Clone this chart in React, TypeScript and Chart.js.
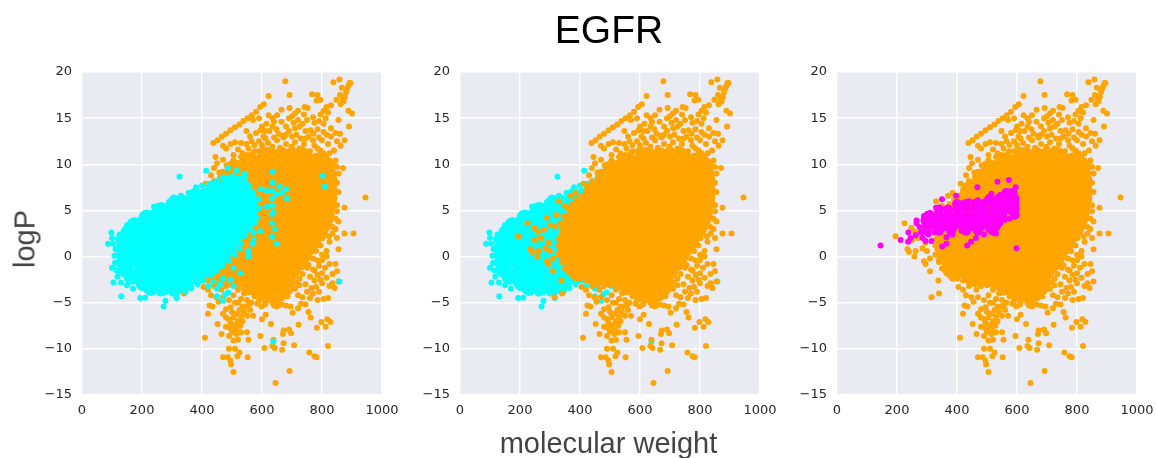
import React, { useEffect, useRef } from "react";
import { Chart, registerables } from "chart.js";

Chart.register(...registerables);

type Pair = [number, number];
type Row = [number, number[]];

const xTicksMax = 1000;
const yRange = [-15, 20];

// dense centre of the orange population, as [logP, [molecular weights]]
const orangeCoreRows: Row[] = [
  [11.0, [625, 665, 700, 735]],
  [10.4, [560, 600, 640, 680, 720, 755, 785]],
  [9.6, [505, 525, 565, 605, 645, 685, 725, 765, 795, 815]],
  [8.8, [495, 535, 575, 615, 655, 695, 735, 775, 805, 820]],
  [8.0, [475, 515, 555, 595, 635, 675, 715, 755, 795, 825]],
  [7.2, [440, 455, 495, 535, 575, 615, 655, 695, 735, 775, 810, 825]],
  [6.4, [430, 470, 510, 550, 590, 630, 670, 710, 750, 790, 825]],
  [5.6, [410, 450, 490, 530, 570, 610, 650, 690, 730, 770, 800, 820]],
  [4.8, [385, 425, 465, 505, 545, 585, 625, 665, 705, 745, 785, 815]],
  [4.0, [370, 410, 450, 490, 530, 570, 610, 650, 690, 730, 770, 810]],
  [3.2, [360, 400, 440, 480, 520, 560, 600, 640, 680, 720, 760, 800]],
  [2.4, [355, 395, 435, 475, 515, 555, 595, 635, 675, 715, 755, 785]],
  [1.6, [355, 395, 435, 475, 515, 555, 595, 635, 675, 715, 745, 770]],
  [0.8, [355, 395, 435, 475, 515, 555, 595, 635, 675, 720, 750]],
  [0.0, [360, 400, 440, 480, 520, 560, 600, 640, 680, 710, 735]],
  [-0.8, [375, 415, 455, 495, 535, 575, 615, 655, 695, 720]],
  [-1.6, [385, 425, 465, 505, 545, 585, 625, 665, 685, 700]],
  [-2.4, [450, 490, 530, 570, 610, 650, 665, 685]],
  [-3.2, [555, 595, 630, 655, 675]],
  [-4.0, [605, 640, 660]],
];

const orangeScatter: Pair[] = [
  [438, 12.3], [452, 12.6], [466, 13], [480, 13.3], [495, 13.7], [510, 14], [525, 14.3], [538, 14.7], [552, 15], [566, 15.3], [580, 15.7], [594, 16.2], [606, 16.5],
  [872, 16.8], [876, 17.3], [880, 17.8], [884, 18.2], [888, 18.5], [892, 18.8], [895, 18.8], [858, 19.2], [838, 18.9], [860, 17.5], [866, 18.3], [848, 17], [862, 16.5], [868, 17],
  [678, 19], [622, 17.4], [692, 17.5], [767, 17.6], [785, 17.5], [795, 17], [782, 16.9], [830, 16.4], [815, 16.2], [805, 15.8], [812, 15], [820, 15.6], [795, 15.4],
  [665, 15.9], [692, 16.1], [742, 16.2], [752, 16.1], [710, 15.5], [720, 15.8], [690, 15], [622, 15.3], [635, 15], [640, 14.6], [570, 14.8], [590, 15], [615, 14.4], [600, 14.1],
  [665, 14.6], [705, 14.5], [720, 14.8], [735, 14.4], [770, 15.1], [790, 14.7], [855, 14.8], [888, 15.8], [900, 15.5], [890, 14.1], [762, 13.7], [772, 13.3], [785, 13.8], [815, 13.2], [830, 13.9], [845, 13.4], [830, 13], [860, 13.3], [875, 12.6], [850, 12.5], [862, 12],
  [548, 13.6], [560, 13], [580, 13.4], [565, 12.5], [548, 12.2], [530, 12.3], [510, 12.4], [495, 12.2], [470, 12], [480, 11.7], [520, 11.6], [505, 11], [535, 11.2], [555, 11.7], [590, 12.5], [605, 13], [625, 13.6], [648, 13.8], [668, 13.1], [690, 13.6], [715, 13.2], [730, 12.8], [755, 13], [800, 12.6], [820, 12.2], [840, 11.5], [825, 11.2], [845, 10.4], [850, 9.7], [870, 9.6], [855, 9], [840, 8.5], [850, 8], [835, 7.5], [855, 7], [840, 6.4], [830, 6], [875, 5.3], [850, 4.9], [830, 4.5], [855, 3.8], [845, 3], [835, 2.5], [850, 2], [875, 2.5], [905, 2.5], [855, 0.8], [945, 6.4],
  [445, 10.8], [450, 10.1], [440, 9.6], [470, 10.5], [482, 9.9], [458, 9.1], [430, 8.8], [412, 7.9], [385, 6.9], [370, 6.6], [330, 6], [350, 5.5], [320, 4.5], [290, 4.2], [225, 3.6], [195, 2.2], [260, 2.7], [248, 3.1], [280, 2.9], [300, 3.4], [318, 3.2], [270, 2], [250, 1.8], [235, 0.8], [240, 0.5], [262, 0.6], [258, 0], [295, 1.5], [285, 0.9], [300, 0.6], [290, -0.5], [310, -0.2], [295, -0.8], [310, -1.6], [335, 0.8], [340, -0.4], [338, -2.6], [315, -4.4], [340, -4],
  [345, 2.5], [340, 3.4], [360, -1.5], [385, -2.4], [405, -3.3], [420, -3.6], [440, -3.2], [430, -4.2], [448, -4.4], [465, -3.6], [480, -3.2], [500, -2.9], [520, -3.6], [505, -4.2], [540, -4], [560, -3.4], [575, -4.3], [600, -4.5], [620, -4.7], [650, -4.6], [670, -4.1], [690, -3.8], [710, -3.5], [725, -3.1], [745, -3], [760, -2.2], [775, -1.5], [790, -1], [800, -0.4], [815, 0], [825, -0.8], [845, -0.8], [850, -1.6], [835, -1.9], [815, -2.3], [795, -2.5], [780, -3.3], [790, -3.8], [800, -2.9], [825, -3.2], [835, -2.9], [855, -2.7], [842, -3.4], [820, -4.5], [805, -4.6], [785, -4.7], [770, -4], [760, -4.5], [745, -5.2], [730, -5.1], [720, -5.6], [755, -6], [762, -6.6], [702, -6.1], [695, -5.4], [680, -5.3], [665, -5.2], [640, -5.3], [598, -5.4], [600, -6.8], [612, -6.3], [570, -6.4], [555, -5.3], [535, -5.4], [425, -5.3], [435, -5.4], [420, -6.2], [452, -7.3], [470, -6.2], [480, -5.7], [495, -5.5], [510, -5], [525, -5.8], [540, -6], [505, -6.6], [490, -6.8], [520, -7],
  [480, -7.6], [495, -7.8], [510, -7.4], [528, -7.5], [500, -8.2], [490, -8.6], [515, -8.4], [530, -8.2], [550, -8.2], [520, -9], [505, -9.1], [555, -9], [465, -8.4], [410, -8.8], [595, -8.6], [630, -7.3], [670, -8.4], [672, -8], [690, -7.9], [697, -8.3], [722, -7.4], [783, -7.7], [798, -7.1], [812, -7.6], [818, -6.8], [828, -7.1], [820, -9.7], [758, -10.4], [775, -10.8], [782, -10.9], [635, -9.7], [642, -9.9], [608, -9.9], [638, -9], [667, -10.1], [707, -9.6], [672, -9.4], [490, -10], [510, -10], [525, -10.4], [518, -10.8], [470, -10.9], [486, -10.9], [495, -11.3], [497, -11.7], [552, -10.9], [505, -12.5], [692, -12.4], [645, -13.7],
  [620, 12.3], [650, 12.6], [680, 12.2], [710, 12.4], [740, 12.2], [775, 12], [795, 11.5], [505, 8.5], [520, 10], [540, 10.6], [575, 11.4], [600, 11.6],
];

const orangeFringe: Pair[] = [
  [600, 12.1], [612, 12.8], [635, 11.9], [660, 11.8], [672, 12.9], [698, 11.9], [700, 13], [725, 11.7], [745, 12.8], [760, 11.4], [785, 11.7], [805, 11.2], [815, 10.8], [800, 10.9], [825, 10.4], [835, 10], [835, 9.4], [840, 9], [842, 8.2], [842, 7.2], [840, 6.6], [835, 5.4], [832, 4.6], [825, 3.8], [815, 3.2], [808, 2.6], [802, 2], [795, 1.2], [780, 0.6], [770, -0.2], [755, -0.9], [750, -1.2], [735, -1.9], [725, -2.4], [715, -2.8], [700, -3.1], [695, -3.6], [685, -4.3], [650, -4.9], [635, -5], [612, -4.9], [590, -4.8], [570, -3.9], [555, -3.9], [540, -3.4], [520, -3.1], [500, -3.1], [480, -3], [460, -3], [440, -2.8], [420, -2.6], [400, -2.4], [380, -2.2], [365, -1.8], [350, -1.3], [340, -0.6], [328, 0.2], [328, 1.2], [330, 1.9], [335, 3.6], [345, 4.4], [360, 5.2], [375, 5.7], [390, 6.2], [405, 6.6], [420, 7.2], [428, 7.7], [440, 8.2], [460, 8.6], [470, 9.2], [490, 9.8], [505, 10.4], [530, 10.8], [550, 11], [570, 11.2], [590, 11.4], [610, 11.6],
  [455, -4.9], [470, -4.4], [490, -4.7], [530, -4.6], [550, -4.7], [565, -5], [585, -5.1], [610, -5.2], [650, -5.4], [520, -5], [545, -5.4], [500, -6], [515, -6.2], [530, -6.5], [480, -6.6], [495, -7.2], [505, -7.8], [515, -7.9], [535, -7], [550, -6.4], [560, -5.8],
  [720, -4.2], [735, -4.4], [750, -3.8], [765, -3.4], [775, -2.6], [785, -2], [800, -1.8], [810, -1.2], [770, -1.4], [785, -0.4], [800, 0.2], [815, 0.6], [825, 1.6], [822, 2.2], [835, 3.2], [845, 4.1], [850, 5.6],
  [640, 12.9], [655, 13.3], [680, 13.2], [710, 13.9], [745, 13.6], [770, 12.6], [790, 12.9], [805, 13.5], [575, 12.1], [595, 13.7], [610, 13.6], [635, 14.1], [680, 14.1], [725, 14.1], [750, 14.8], [775, 14.5], [805, 14.4], [650, 15.3], [700, 15.2], [740, 15.4],
];

// dense centre of the cyan population
const cyanCoreRows: Row[] = [
  [8.0, [495, 525]],
  [7.4, [440, 470, 510, 540]],
  [6.6, [380, 410, 450, 490, 525, 555]],
  [5.8, [310, 340, 380, 420, 460, 500, 530, 560]],
  [5.0, [260, 285, 325, 365, 405, 445, 485, 525, 560]],
  [4.2, [215, 240, 280, 320, 360, 400, 440, 480, 520, 560]],
  [3.4, [175, 200, 240, 280, 320, 360, 400, 440, 480, 520, 545]],
  [2.6, [155, 170, 210, 250, 290, 330, 370, 410, 450, 490, 525]],
  [1.8, [140, 150, 190, 230, 270, 310, 350, 390, 430, 470, 505]],
  [1.0, [140, 185, 225, 265, 305, 345, 385, 425, 465, 490]],
  [0.2, [140, 185, 225, 265, 305, 345, 385, 425, 470]],
  [-0.6, [140, 190, 230, 270, 310, 350, 390, 420, 450]],
  [-1.4, [145, 205, 245, 285, 325, 365, 400, 425]],
  [-2.2, [165, 190, 230, 270, 310, 350, 385]],
  [-2.9, [205, 240, 280, 320, 345]],
  [-3.4, [230, 270, 310]],
];

const cyanScatter: Pair[] = [
  [486, 9.6], [516, 9.3], [542, 9], [544, 8.65], [414, 9.3], [635, 9.2], [635, 8], [596, 7.3], [616, 7.1], [633, 7.1], [658, 7.6], [680, 7.3], [666, 6.9], [647, 6.75], [683, 6.3], [633, 6.3], [588, 6.2], [616, 5.4], [636, 5.5], [638, 4.75], [633, 4.6], [633, 3.6], [644, 2.95], [633, 2.15], [649, 1.4], [594, 2.75], [572, 2.6], [572, 1.85], [569, 1.4], [555, 0.6], [555, 0], [527, -1.8], [505, -3.2], [488, -3.9], [477, -4.1], [450, -4.3], [470, -4.8], [450, -3.5], [494, -2.5], [438, -2.7], [638, -9.2], [858, -2.7], [802, 8.75], [810, 7.6], [325, 8.65], [131, -4.3], [272, -5.4], [278, -4.8], [316, -4.5], [194, -4.5], [211, -4.45], [105, -2.8], [100, -1.2], [98, 2.6], [100, 2], [87, 1.4], [105, 1.4],
  [150, 3.4], [166, 3.55], [120, 1.9], [125, 2.4], [140, 2.8], [180, 3.8], [200, 4.3], [222, 4.7], [240, 5.4], [265, 5.6], [290, 5.9], [305, 6.4], [330, 6.6], [355, 6.9], [380, 7.5], [400, 7.7], [425, 7.9], [450, 8.2], [470, 8.6], [500, 8.7], [525, 8.2], [550, 7.8], [565, 6.6], [578, 5.8], [590, 5.2], [570, 4.7], [585, 4.2], [575, 3.6], [555, 3.2], [545, 2.4], [530, 1.4], [525, 0.8], [510, 0.2], [490, -0.5], [470, -1], [450, -1.5], [430, -2], [405, -2.6], [385, -3], [365, -3.4], [345, -3.8], [300, -4], [260, -4], [230, -3.9], [170, -3.5], [150, -3.1], [130, -2.8], [118, -2.2], [115, -1.5], [110, -0.7], [108, 0.1], [112, 0.8],
  [560, 5.2], [540, 6.4], [548, 7.2], [520, 3.2], [470, -2.4], [460, -3], [420, -3.2], [505, -1.2],
];

// dense centre of the magenta population
const magentaCoreRows: Row[] = [
  [6.9, [565, 585]],
  [6.3, [510, 540, 570, 592]],
  [5.7, [400, 430, 460, 490, 520, 550, 580, 592]],
  [5.1, [340, 370, 400, 430, 460, 490, 520, 550, 575, 592]],
  [4.5, [310, 340, 370, 400, 430, 460, 490, 520, 550, 592]],
  [3.9, [295, 325, 355, 385, 415, 445, 475, 505, 535]],
  [3.3, [300, 330, 360, 390, 420, 450, 480, 510, 530]],
  [2.8, [300, 340, 380, 430, 470, 520]],
];

const magentaScatter: Pair[] = [
  [145, 1.2], [212, 1.8], [238, 2.6], [237, 1.6], [245, 2], [262, 2.3], [265, 3.6], [265, 3.9], [350, 6.2], [397, 6.6], [468, 7.5], [535, 8.1], [573, 8.3], [598, 0.9], [351, 1.1], [365, 1.4], [365, 2.1], [385, 2.4], [434, 1.2], [447, 1.6], [463, 2], [490, 2.4], [530, 2.5], [285, 2], [295, 1.7], [315, 1.7], [305, 2.4], [325, 2.6], [345, 2.8], [280, 2.6], [275, 3.2], [290, 4.4], [300, 4.6], [330, 5.3], [335, 4.9], [420, 5.8], [440, 6], [470, 6.1], [500, 6.2], [515, 6.8], [545, 6.7], [565, 6.8], [585, 7], [596, 7.5], [590, 6.8], [598, 6.2], [598, 5.2], [598, 4.5], [435, 2.7], [415, 2.8], [470, 2.7], [505, 2.9], [520, 3], [545, 3.6], [560, 4], [575, 4.1],
];

const expand = (rows: Row[]): Pair[] => rows.flatMap(([y, xs]) => xs.map((x): Pair => [x, y]));
const toPoints = (pairs: Pair[]) => pairs.map(([x, y]) => ({ x, y }));

const ORANGE = "#FFA500";
const CYAN = "#00FFFF";
const MAGENTA = "#FF00FF";
const CORE_R = 8;
const DOT_R = 3;

type Layer = { pairs: Pair[]; color: string; r: number };
const orangeLayers: Layer[] = [
  { pairs: expand(orangeCoreRows), color: ORANGE, r: CORE_R },
  { pairs: [...orangeScatter, ...orangeFringe], color: ORANGE, r: DOT_R },
];
const cyanLayers: Layer[] = [
  { pairs: expand(cyanCoreRows), color: CYAN, r: CORE_R },
  { pairs: cyanScatter, color: CYAN, r: DOT_R },
];
const magentaLayers: Layer[] = [
  { pairs: expand(magentaCoreRows), color: MAGENTA, r: 5 },
  { pairs: magentaScatter, color: MAGENTA, r: DOT_R },
];

// layers listed bottom first; Chart.js paints the first dataset last, so they are reversed when built
const panels = [
  { left: 32, layers: [...orangeLayers, ...cyanLayers] },
  { left: 410, layers: [...cyanLayers, ...orangeLayers] },
  { left: 787, layers: [...orangeLayers, ...magentaLayers] },
];

const bgPlugin = {
  id: "plotBg",
  beforeDraw(chart: any) {
    const { ctx, chartArea: a } = chart;
    ctx.save();
    ctx.fillStyle = "#EAEAF2";
    ctx.fillRect(a.left, a.top, a.right - a.left, a.bottom - a.top);
    ctx.restore();
  },
};

function Panel({ left, layers }: { left: number; layers: Layer[] }) {
  const ref = useRef<HTMLCanvasElement>(null);
  useEffect(() => {
    const tickFont = { family: "'DejaVu Sans'", size: 13 };
    const datasets = [...layers].reverse().map((l) => ({
      data: toPoints(l.pairs),
      backgroundColor: l.color,
      borderWidth: 0,
      pointRadius: l.r,
      pointHoverRadius: l.r,
    }));
    const chart = new Chart(ref.current!, {
      type: "scatter",
      data: { datasets },
      plugins: [bgPlugin],
      options: {
        animation: false,
        responsive: false,
        layout: { padding: { top: 72, right: 40, left: 0, bottom: 0 } },
        plugins: { legend: { display: false }, tooltip: { enabled: false } },
        scales: {
          x: {
            min: 0,
            max: xTicksMax,
            afterFit: (s: any) => { s.height = 63; },
            border: { display: false },
            grid: { color: "#FFFFFF", lineWidth: 1.4, tickLength: 0 },
            ticks: { stepSize: 200, color: "#262626", font: tickFont, padding: 8, maxRotation: 0, callback: (v: any) => String(v) },
          },
          y: {
            min: yRange[0],
            max: yRange[1],
            afterFit: (s: any) => { s.width = 50; },
            border: { display: false },
            grid: { color: "#FFFFFF", lineWidth: 1.4, tickLength: 0 },
            ticks: {
              stepSize: 5,
              color: "#262626",
              font: tickFont,
              padding: 10,
              callback: (v: any) => String(v).replace("-", "\u2212"),
            },
          },
        },
      },
    } as any);
    return () => chart.destroy();
  }, [layers]);
  return (
    <canvas
      ref={ref}
      width={390}
      height={458}
      style={{ position: "absolute", left, top: 0, width: 390, height: 458 }}
    />
  );
}

const textBase: React.CSSProperties = {
  position: "absolute",
  fontFamily: "'Liberation Sans', Arial, sans-serif",
  whiteSpace: "nowrap",
  lineHeight: 1,
};

export default function App() {
  return (
    <div style={{ position: "absolute", left: 0, top: 0, width: 1157, height: 458, overflow: "hidden", background: "#fff" }}>
      {panels.map((p) => (
        <Panel key={p.left} left={p.left} layers={p.layers} />
      ))}
      <div style={{ ...textBase, left: 0, width: 1218, textAlign: "center", top: 10, fontSize: 39, color: "#000" }}>EGFR</div>
      <div style={{ ...textBase, left: 0, width: 1217, textAlign: "center", top: 429, fontSize: 29, color: "#444" }}>molecular weight</div>
      <div
        style={{
          ...textBase,
          left: 25,
          top: 239,
          fontSize: 29,
          color: "#444",
          transform: "translate(-50%, -50%) rotate(-90deg)",
        }}
      >
        logP
      </div>
    </div>
  );
}
